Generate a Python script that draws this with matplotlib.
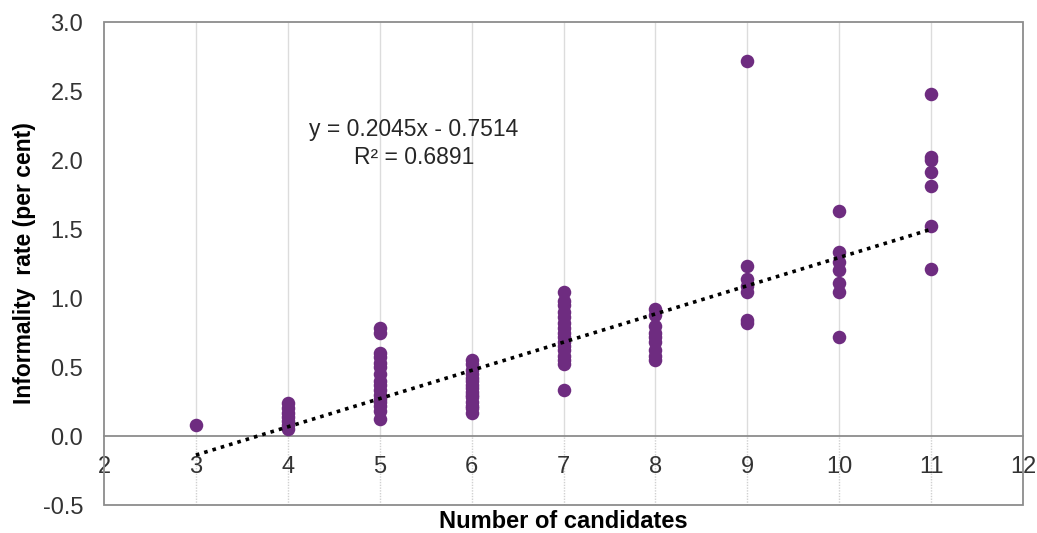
import numpy as np
import matplotlib
matplotlib.use('Agg')
from matplotlib import pyplot as plt
from matplotlib.patches import Rectangle

plt.rcParams['font.family'] = ['Liberation Sans', 'DejaVu Sans']

# number of candidates -> informality rate values (per cent)
cand_3 = [0.08]
cand_4 = [0.24, 0.20, 0.17, 0.14, 0.11, 0.08, 0.05]
cand_5 = [0.78, 0.75, 0.60, 0.57, 0.53, 0.50, 0.45, 0.40, 0.37, 0.33,
          0.30, 0.27, 0.25, 0.22, 0.18, 0.12]
cand_6 = [0.55, 0.52, 0.48, 0.45, 0.42, 0.40, 0.37, 0.35, 0.32, 0.30,
          0.28, 0.25, 0.22, 0.20, 0.17]
cand_7 = [1.04, 0.98, 0.95, 0.90, 0.86, 0.82, 0.78, 0.75, 0.72, 0.68,
          0.65, 0.62, 0.58, 0.55, 0.52, 0.33]
cand_8 = [0.92, 0.88, 0.80, 0.75, 0.72, 0.68, 0.62, 0.58, 0.55]
cand_9 = [2.72, 1.23, 1.14, 1.09, 1.04, 0.84, 0.82]
cand_10 = [1.63, 1.33, 1.26, 1.20, 1.11, 1.04, 0.72]
cand_11 = [2.48, 2.02, 2.00, 1.91, 1.81, 1.52, 1.21]

groups = {3: cand_3, 4: cand_4, 5: cand_5, 6: cand_6, 7: cand_7,
          8: cand_8, 9: cand_9, 10: cand_10, 11: cand_11}

slope = 0.2045
intercept = -0.7514
r_squared = 0.6891

x_ticks = list(range(2, 13))
y_ticks = [-0.5, 0.0, 0.5, 1.0, 1.5, 2.0, 2.5, 3.0]

xs = np.concatenate([[k] * len(v) for k, v in groups.items()])
ys = np.concatenate([v for v in groups.values()])

fig = plt.figure(figsize=(10.37, 5.33), dpi=100)
ax = fig.add_axes([0.1003, 0.0525, 0.8862, 0.9062])

grid_x = x_ticks[1:-1]
ax.vlines(grid_x, 0, 3.0, colors='#dcdcdc', linewidth=1, zorder=0)
ax.vlines(grid_x, -0.5, 0, colors='#d0d0d0', linewidth=1,
          linestyles=(0, (1, 1)), zorder=0)

ax.scatter(xs, ys, s=95, color='#6e2c80', linewidths=0, zorder=3)

tx = np.array([min(groups), max(groups)])
ax.plot(tx, slope * tx + intercept, color='black', linewidth=2.6,
        linestyle=(0, (1, 1.4)), zorder=4)

ax.text(5.37, 2.12, 'y = %.4fx - %.4f\nR² = %.4f' % (slope, -intercept, r_squared),
        ha='center', va='center', multialignment='center', fontsize=16.5,
        color='#262626', linespacing=1.25)

ax.set_xlim(2, 12)
ax.set_ylim(-0.5, 3.0)
ax.set_xticks(x_ticks)
ax.set_yticks(y_ticks)
ax.set_yticklabels(['%.1f' % v for v in y_ticks])

ax.spines['bottom'].set_position(('data', 0))
for side in ['top', 'right', 'left']:
    ax.spines[side].set_visible(False)
ax.spines['bottom'].set_color('#8c8c8c')
ax.spines['bottom'].set_linewidth(1.3)
ax.add_patch(Rectangle((0, 0), 1, 1, transform=ax.transAxes, fill=False,
                       edgecolor='#8c8c8c', linewidth=1.3, clip_on=False, zorder=5))

ax.tick_params(axis='both', length=0, labelsize=17, labelcolor='#333333')
ax.tick_params(axis='x', pad=14.5)
ax.tick_params(axis='y', pad=15)

ax.set_ylabel('Informality  rate (per cent)', fontsize=16.5, fontweight='bold',
              labelpad=5)
fig.text(0.543, 0.022, 'Number of candidates', ha='center', va='center',
         fontsize=17, fontweight='bold')

plt.savefig('out.png', dpi=100)
plt.close()
